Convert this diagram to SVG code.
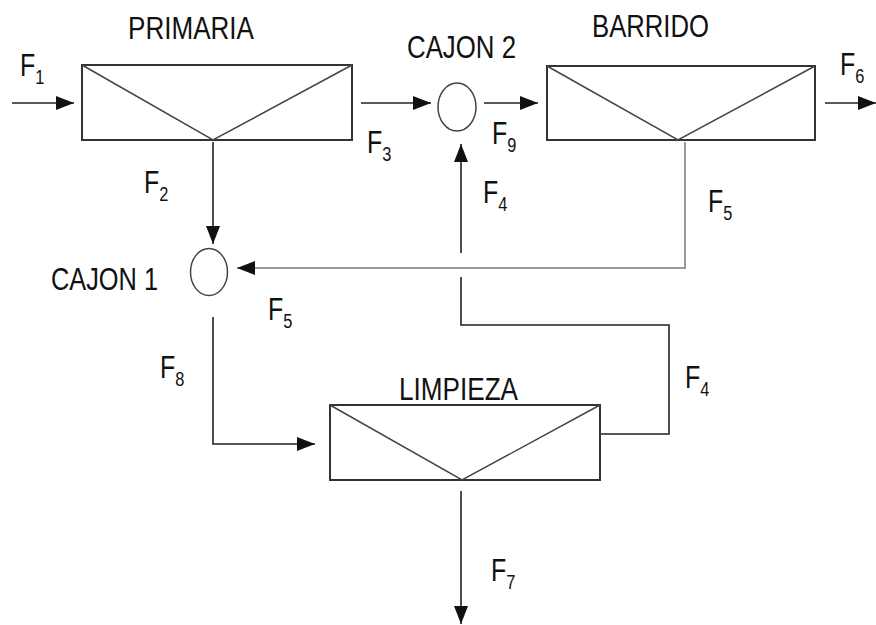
<svg xmlns="http://www.w3.org/2000/svg" width="876" height="625" viewBox="0 0 876 625">
<style>
.box{fill:#fff;stroke:#333;stroke-width:2}
.diag{fill:none;stroke:#444;stroke-width:1.5}
.cir{fill:#fff;stroke:#444;stroke-width:1.5}
.ln{fill:none;stroke:#222;stroke-width:1.6}
.gr{fill:none;stroke:#9a9a9a;stroke-width:2}
.t{font-family:"Liberation Sans",Arial,sans-serif;font-size:32px;fill:#111}
.sub{font-size:21px}
</style>
<defs>
<marker id="ah" viewBox="0 0 18 14" refX="18" refY="7" markerWidth="18" markerHeight="14" markerUnits="userSpaceOnUse" orient="auto">
<path d="M0,0 L18,7 L0,14 Z" fill="#111"/>
</marker>
</defs>
<rect width="876" height="625" fill="#fff"/>
<g id="connectors">
<path class="ln" d="M12,103 H74" marker-end="url(#ah)"/>
<path class="ln" d="M361,103 H431" marker-end="url(#ah)"/>
<path class="ln" d="M484,103 H538" marker-end="url(#ah)"/>
<path class="ln" d="M825,103 H876" marker-end="url(#ah)"/>
<path class="ln" d="M213,142 V244" marker-end="url(#ah)"/>
<path class="gr" d="M685,142 V268 H237" marker-end="url(#ah)"/>
<path class="ln" d="M213,317 V444 H315" marker-end="url(#ah)"/>
<path class="ln" d="M600,434 H669 V325 H461 V277 M461,253 V144" marker-end="url(#ah)"/>
<path class="ln" d="M461,491 V624" marker-end="url(#ah)"/>
</g>
<g id="primaria">
<rect class="box" x="82" y="65" width="270" height="75"/>
<path class="diag" d="M82,65 L213,140 L352,65"/>
<text class="t" x="128" y="39" textLength="126" lengthAdjust="spacingAndGlyphs">PRIMARIA</text>
</g>
<g id="barrido">
<rect class="box" x="547" y="66" width="268" height="74"/>
<path class="diag" d="M547,66 L678,140 L815,66"/>
<text class="t" x="592" y="37" textLength="117" lengthAdjust="spacingAndGlyphs">BARRIDO</text>
</g>
<g id="limpieza">
<rect class="box" x="330" y="405" width="270" height="75"/>
<path class="diag" d="M330,405 L462,480 L600,405"/>
<text class="t" x="399" y="400" textLength="119" lengthAdjust="spacingAndGlyphs">LIMPIEZA</text>
</g>
<g id="cajon2">
<ellipse class="cir" cx="457" cy="107" rx="19" ry="24"/>
<text class="t" x="407" y="58" textLength="109" lengthAdjust="spacingAndGlyphs">CAJON 2</text>
</g>
<g id="cajon1">
<ellipse class="cir" cx="209" cy="272" rx="18.5" ry="23.5"/>
<text class="t" x="51" y="290" textLength="107" lengthAdjust="spacingAndGlyphs">CAJON 1</text>
</g>
<g id="labels">
<text class="t" transform="translate(20,76) scale(0.78,1)">F<tspan class="sub" dy="8">1</tspan></text>
<text class="t" transform="translate(144,193) scale(0.78,1)">F<tspan class="sub" dy="8">2</tspan></text>
<text class="t" transform="translate(367,153) scale(0.78,1)">F<tspan class="sub" dy="8">3</tspan></text>
<text class="t" transform="translate(492,144) scale(0.78,1)">F<tspan class="sub" dy="8">9</tspan></text>
<text class="t" transform="translate(483,203) scale(0.78,1)">F<tspan class="sub" dy="8">4</tspan></text>
<text class="t" transform="translate(708,212) scale(0.78,1)">F<tspan class="sub" dy="8">5</tspan></text>
<text class="t" transform="translate(268,320) scale(0.78,1)">F<tspan class="sub" dy="8">5</tspan></text>
<text class="t" transform="translate(160,378) scale(0.78,1)">F<tspan class="sub" dy="8">8</tspan></text>
<text class="t" transform="translate(685,388) scale(0.78,1)">F<tspan class="sub" dy="8">4</tspan></text>
<text class="t" transform="translate(491,581) scale(0.78,1)">F<tspan class="sub" dy="8">7</tspan></text>
<text class="t" transform="translate(840,75) scale(0.78,1)">F<tspan class="sub" dy="8">6</tspan></text>
</g>
</svg>
